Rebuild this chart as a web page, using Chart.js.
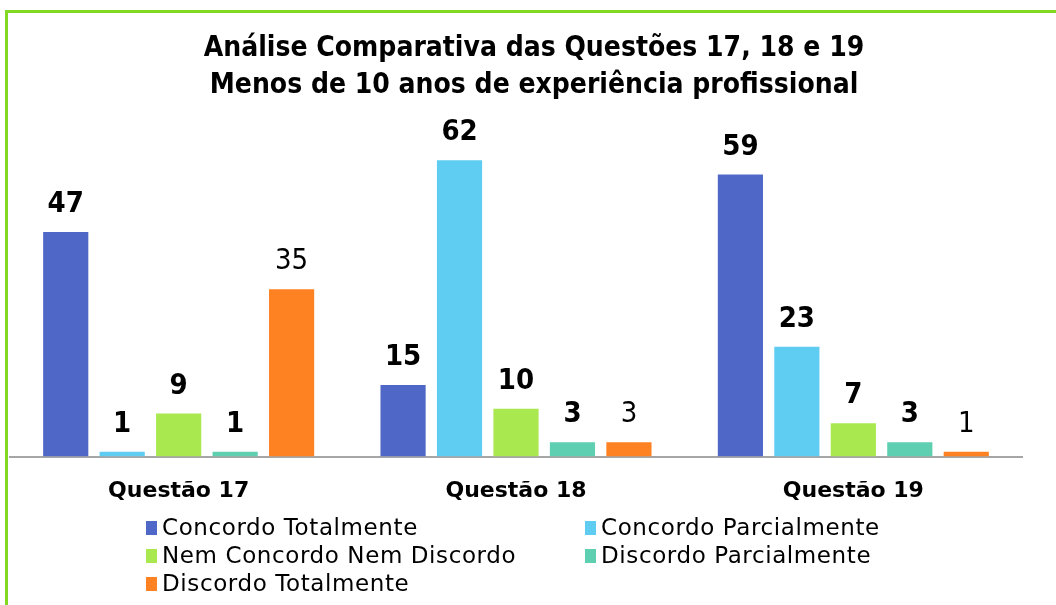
<!DOCTYPE html>
<html>
<head>
<meta charset="utf-8">
<script src="https://cdn.jsdelivr.net/npm/chart.js@4"></script>
<style>
  html, body { margin: 0; padding: 0; background: #fff; overflow: hidden; }
  #wrap { position: relative; width: 1056px; height: 605px; overflow: hidden; }
  #frame { position: absolute; left: 5px; top: 10px; width: 1200px; height: 800px;
           border: 3px solid #82D823; box-sizing: border-box; }
  canvas { position: absolute; left: 0; top: 0; }
</style>
</head>
<body>
<div id="wrap">
  <div id="frame"></div>
  <canvas id="c" width="1056" height="605"></canvas>
</div>
<script>
const titleLines = ['Análise Comparativa das Questões 17, 18 e 19',
                    'Menos de 10 anos de experiência profissional'];
const categories = ['Questão 17', 'Questão 18', 'Questão 19'];
const seriesNames = ['Concordo Totalmente', 'Concordo Parcialmente',
                     'Nem Concordo Nem Discordo', 'Discordo Parcialmente',
                     'Discordo Totalmente'];
const concordoTotalmente   = [47, 15, 59];
const concordoParcialmente = [1, 62, 23];
const nemConcordo          = [9, 10, 7];
const discordoParcialmente = [1, 3, 3];
const discordoTotalmente   = [35, 3, 1];
const seriesColors = ['#4F68C7', '#5FCCF1', '#A9E84F', '#5ECFB1', '#FF8222'];
const labelBold = [true, true, true, true, false];

const FONT_C = '"DejaVu Sans Condensed", "DejaVu Sans", sans-serif';
const FONT = '"DejaVu Sans", sans-serif';

const values = [concordoTotalmente, concordoParcialmente, nemConcordo,
                discordoParcialmente, discordoTotalmente];

// Two-line heading drawn at the top of the canvas
const headingPlugin = {
  id: 'heading',
  afterDraw(chart) {
    const ctx = chart.ctx;
    ctx.save();
    ctx.fillStyle = '#000';
    ctx.font = 'bold 28px ' + FONT_C;
    ctx.textAlign = 'center';
    ctx.textBaseline = 'middle';
    ctx.fillText(titleLines[0], 534, 49);
    ctx.fillText(titleLines[1], 534, 86);
    ctx.restore();
  }
};

// Value labels above each bar
const valueLabels = {
  id: 'valueLabels',
  afterDatasetsDraw(chart) {
    const ctx = chart.ctx;
    ctx.save();
    ctx.fillStyle = '#000';
    ctx.textAlign = 'center';
    ctx.textBaseline = 'alphabetic';
    chart.data.datasets.forEach((ds, i) => {
      const meta = chart.getDatasetMeta(i);
      ctx.font = (labelBold[i] ? 'bold ' : '') + '29px ' + FONT_C;
      meta.data.forEach((bar, j) => {
        ctx.fillText(String(ds.data[j]), bar.x, bar.y - 20);
      });
    });
    ctx.restore();
  }
};

// Two-column legend below the axis
const gridLegend = {
  id: 'gridLegend',
  afterDraw(chart) {
    const ctx = chart.ctx;
    const colX = [146, 585];
    const rowY = [528, 556, 584];
    ctx.save();
    ctx.font = '23px ' + FONT;
    ctx.letterSpacing = '0.6px';
    ctx.textBaseline = 'middle';
    ctx.textAlign = 'left';
    chart.data.datasets.forEach((ds, i) => {
      const x = colX[i % 2];
      const y = rowY[Math.floor(i / 2)];
      ctx.fillStyle = ds.backgroundColor;
      ctx.fillRect(x, y - 7, 11, 14);
      ctx.fillStyle = '#000';
      ctx.fillText(ds.label, x + 16, y + 1);
    });
    ctx.restore();
  }
};

new Chart(document.getElementById('c'), {
  type: 'bar',
  data: {
    labels: categories,
    datasets: seriesNames.map((name, i) => ({
      label: name,
      data: values[i],
      backgroundColor: seriesColors[i],
      borderWidth: 0,
      barPercentage: 0.8,
      categoryPercentage: 0.837
    }))
  },
  options: {
    responsive: false,
    animation: false,
    devicePixelRatio: 1,
    layout: { padding: { left: 10, right: 34, top: 122, bottom: 80 } },
    plugins: {
      legend: { display: false },
      title: { display: false },
      tooltip: { enabled: false }
    },
    scales: {
      x: {
        grid: { display: false, drawTicks: false },
        border: { display: true, color: '#A6A6A6', width: 2 },
        ticks: {
          color: '#000',
          padding: 21,
          font: { family: FONT, size: 22, weight: 'bold' }
        }
      },
      y: {
        display: false,
        min: 0,
        max: 70
      }
    }
  },
  plugins: [headingPlugin, valueLabels, gridLegend]
});
</script>
</body>
</html>
